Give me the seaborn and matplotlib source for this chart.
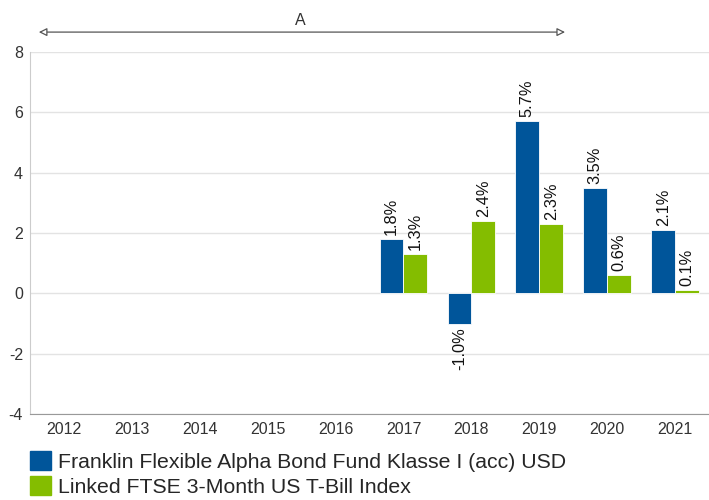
import numpy as np
import pandas as pd
import seaborn as sns
from matplotlib import pyplot as plt
from matplotlib.patches import Patch

years = ["2012", "2013", "2014", "2015", "2016", "2017", "2018", "2019", "2020", "2021"]
fund = [np.nan, np.nan, np.nan, np.nan, np.nan, 1.8, -1.0, 5.7, 3.5, 2.1]
index = [np.nan, np.nan, np.nan, np.nan, np.nan, 1.3, 2.4, 2.3, 0.6, 0.1]
fund_name = "Franklin Flexible Alpha Bond Fund Klasse I (acc) USD"
index_name = "Linked FTSE 3-Month US T-Bill Index"
colors = ["#00559a", "#84bd00"]

df = pd.DataFrame({"year": years, fund_name: fund, index_name: index})
df = df.melt("year", var_name="series", value_name="value").dropna()

sns.set_style("white")
plt.rcParams["font.family"] = ["Liberation Sans", "DejaVu Sans"]
plt.rcParams["axes.unicode_minus"] = False

fig = plt.figure(figsize=(7.09, 5.0), dpi=100)
ax = fig.add_axes([0.0423, 0.172, 0.9577, 0.724])

sns.barplot(data=df, x="year", y="value", hue="series", order=years,
            hue_order=[fund_name, index_name], palette=colors, width=0.7,
            saturation=1, edgecolor="white", linewidth=0.6, ax=ax, legend=False)

for cont in ax.containers:
    ax.bar_label(cont, labels=[f"{v:.1f}%" for v in cont.datavalues],
                 rotation=90, padding=3, fontsize=11.8, color="#111111")

ax.set_ylim(-4, 8)
ax.set_xlim(-0.5, 9.5)
ax.set_yticks([-4, -2, 0, 2, 4, 6, 8])
ax.yaxis.grid(True, color="#e3e3e3", linewidth=1)
ax.set_axisbelow(True)
ax.set_xlabel("")
ax.set_ylabel("")
ax.tick_params(axis="both", length=0, labelsize=11.5, colors="#333333")
ax.tick_params(axis="x", pad=6)
ax.tick_params(axis="y", pad=5)
for s in ["top", "right"]:
    ax.spines[s].set_visible(False)
ax.spines["left"].set_color("#cccccc")
ax.spines["bottom"].set_color("#999999")

ax.annotate("", xy=(-0.37, 8.66), xytext=(7.38, 8.66), xycoords="data",
            annotation_clip=False,
            arrowprops=dict(arrowstyle="<|-|>", fc="white", ec="#555555",
                            lw=0.9, mutation_scale=12, shrinkA=0, shrinkB=0))
ax.text(3.48, 9.05, "A", ha="center", va="center", fontsize=11.5, color="#333333",
        clip_on=False)

handles = [Patch(color=colors[0]), Patch(color=colors[1])]
fig.legend(handles, [fund_name, index_name], loc="upper left",
           bbox_to_anchor=(0.042, 0.098), frameon=False, fontsize=15.3,
           handlelength=1.0, handleheight=1.0, handletextpad=0.33,
           labelspacing=0.2, borderaxespad=0, borderpad=0)

fig.savefig("out.png", dpi=100)
